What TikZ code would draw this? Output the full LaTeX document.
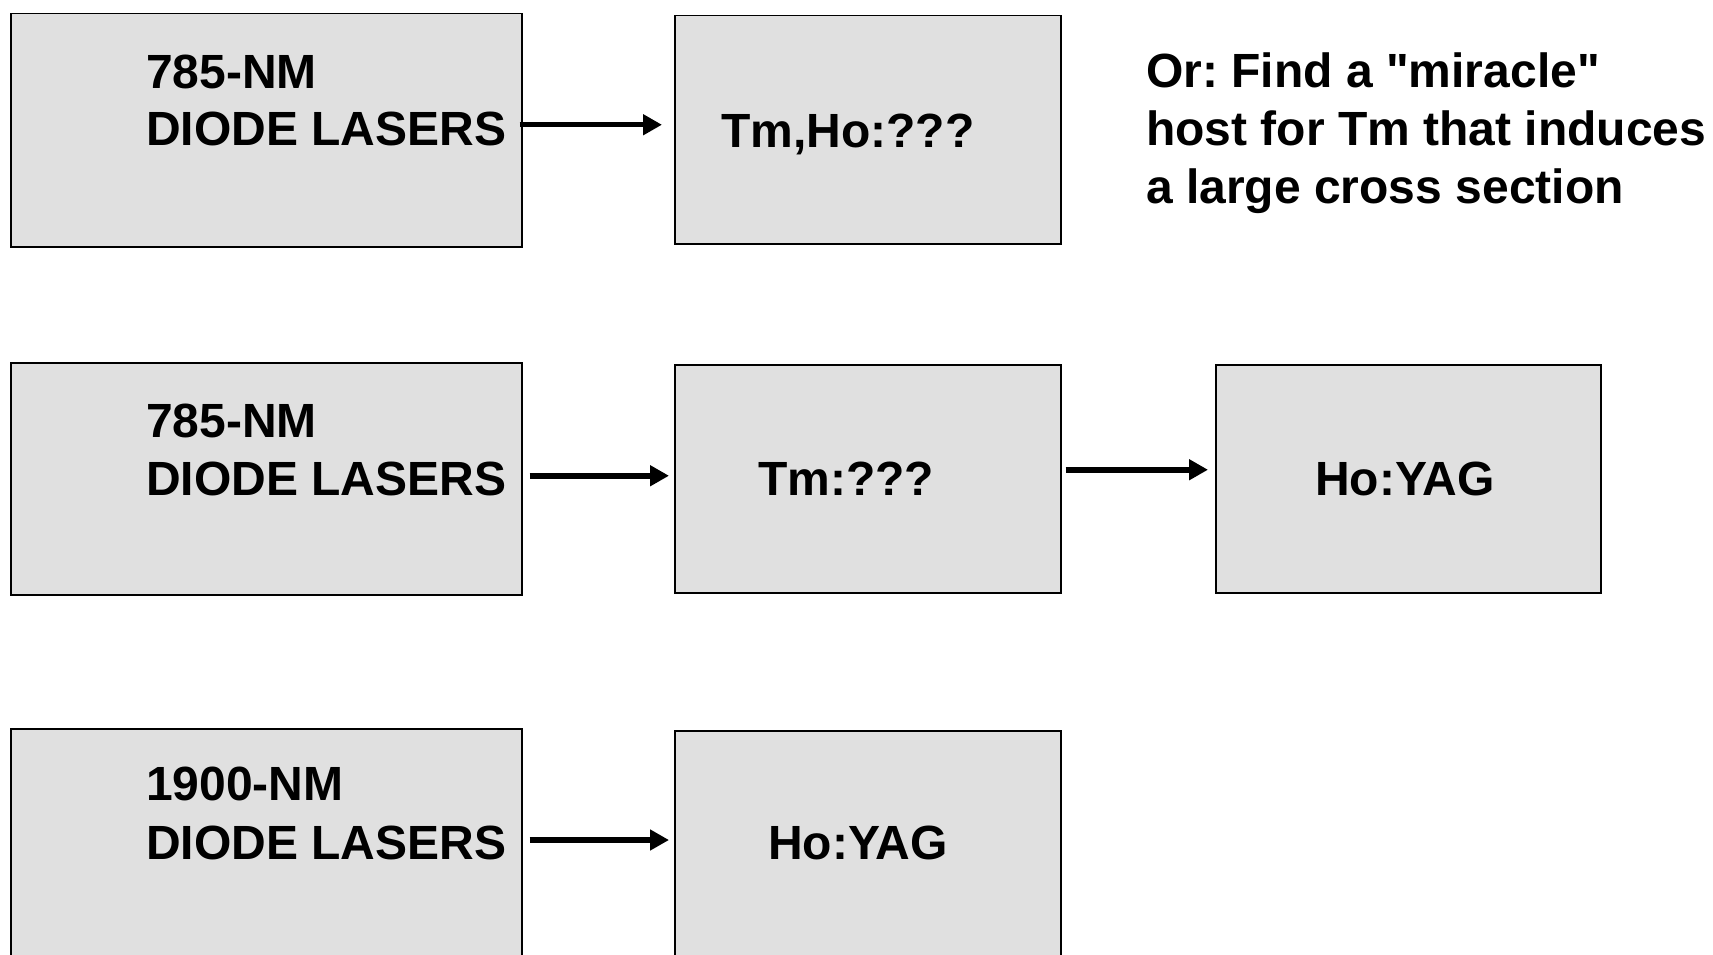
\documentclass[tikz,border=0pt]{standalone}
\usepackage{fontspec}
\setmainfont{Liberation Sans}
\usetikzlibrary{arrows.meta,calc}
\definecolor{boxgray}{HTML}{E0E0E0}
\frenchspacing
\newcommand\straightq{\XeTeXglyph\XeTeXcharglyph"22\relax}
\tikzset{
  box/.style={draw=black, line width=1.5pt, fill=boxgray, rectangle, inner sep=0pt, anchor=north west},
  lbl/.style={font=\fontsize{48}{58}\selectfont\bfseries, inner sep=0pt, anchor=base west, align=left},
  arr/.style={line width=5.5pt, -{Triangle[length=19pt,width=20pt]}}
}
\begin{document}
\begin{tikzpicture}[x=1pt,y=-1pt]
\useasboundingbox (0,0) rectangle (1713,955);
\clip (0,0) rectangle (1713,955);
\fill[white] (0,0) rectangle (1713,955);
% boxes
\node[box, minimum width=511pt, minimum height=233pt] (b1) at (10,13) {};
\node[box, minimum width=386pt, minimum height=228pt] (b2) at (674,15) {};
\node[box, minimum width=511pt, minimum height=232pt] (b3) at (10,362) {};
\node[box, minimum width=386pt, minimum height=228pt] (b4) at (674,364) {};
\node[box, minimum width=385pt, minimum height=228pt] (b5) at (1215,364) {};
\node[box, minimum width=511pt, minimum height=262pt] (b6) at (10,728) {};
\node[box, minimum width=386pt, minimum height=260pt] (b7) at (674,730) {};
% labels
\node[lbl] (t1a) at (146,89) {785-NM};
\node[lbl] (t1b) at (146,146) {DIODE LASERS};
\node[lbl] (t2) at (721,147) {Tm,Ho:???};
\node[lbl] (t3a) at (146,437) {785-NM};
\node[lbl] (t3b) at (146,495) {DIODE LASERS};
\node[lbl] (t4) at (758,495) {Tm:???};
\node[lbl] (t5) at (1315,495) {Ho:YAG};
\node[lbl] (t6a) at (146,800) {1900-NM};
\node[lbl] (t6b) at (146,859) {DIODE LASERS};
\node[lbl] (t7) at (768,859) {Ho:YAG};
\node[lbl] (n1) at (1146,88) {Or: Find a \straightq miracle\straightq};
\node[lbl] (n2) at (1146,146) {host for Tm that induces};
\node[lbl] (n3) at (1146,203) {a large cross section};
% arrows
\draw[arr] ($(b1.east)+(-3,-5.5)$) -- ($(b1.east -| b2.west)+(-12,-5.5)$);
\draw[arr] ($(b3.east)+(7,-3)$) -- ($(b3.east -| b4.west)+(-5,-3)$);
\draw[arr] ($(b4.east)+(4,-9)$) -- ($(b4.east -| b5.west)+(-7,-9)$);
\draw[arr] ($(b6.north east)+(7,112)$) -- ($(b6.north east -| b7.west)+(-5,112)$);
\end{tikzpicture}
\end{document}
